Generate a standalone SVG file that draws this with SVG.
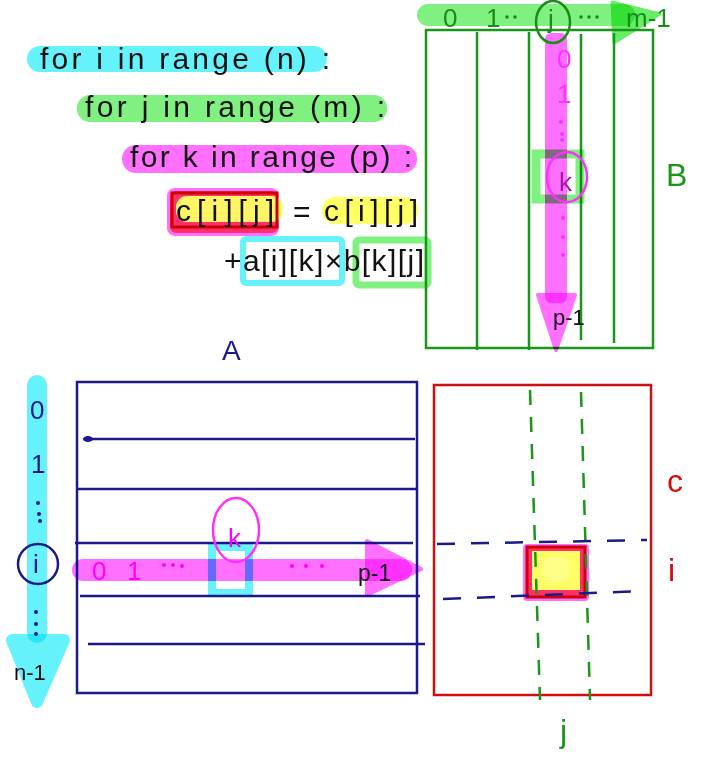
<svg xmlns="http://www.w3.org/2000/svg" width="709" height="761" viewBox="0 0 709 761">
<style>
.hl{mix-blend-mode:multiply}
.code{font-family:"Liberation Sans",Arial,sans-serif;font-size:30px;fill:#111}
.lbl{font-family:"Liberation Sans",Arial,sans-serif}
.cy{fill:#66f2fa}
.gr{fill:#80f080}
.mg{fill:#ff70ff}
.yl{fill:#ffff66}
</style>
<rect width="709" height="761" fill="#fff"/>
<g id="code">
  <rect class="cy hl" x="27" y="46" width="300" height="26" rx="13"/>
  <rect class="gr hl" x="77" y="95" width="310" height="27" rx="13"/>
  <rect class="mg hl" x="122" y="145" width="295" height="28" rx="14"/>
  <rect class="mg hl" x="167" y="188" width="112" height="48" rx="8"/>
  <rect class="hl" x="170" y="191" width="108" height="42" rx="6" fill="#ff6a6a"/>
  <rect class="yl" x="176" y="196" width="107" height="26" rx="11" opacity="0.95"/>
  <rect x="172" y="193" width="105" height="34" fill="none" stroke="#cc0000" stroke-width="3"/>
  <rect class="yl hl" x="322" y="197" width="96" height="27" rx="13"/>
  <rect x="243" y="239" width="99" height="44" rx="3" fill="none" stroke="#66f2fa" stroke-width="6"/>
  <rect x="356" y="240" width="72" height="45" rx="3" fill="none" stroke="#80f080" stroke-width="7"/>
  <text class="code" x="40" y="69" textLength="290" lengthAdjust="spacing">for i in range (n) :</text>
  <text class="code" x="85" y="117" textLength="300" lengthAdjust="spacing">for j in range (m) :</text>
  <text class="code" x="130" y="167" textLength="282" lengthAdjust="spacing">for k in range (p) :</text>
  <text class="code" x="176" y="221" textLength="98" lengthAdjust="spacing">c[i][j]</text>
  <text class="code" x="293" y="222">=</text>
  <text class="code" x="324" y="221" textLength="94" lengthAdjust="spacing">c[i][j]</text>
  <text class="code" x="224" y="271" textLength="200" lengthAdjust="spacing">+a[i][k]×b[k][j]</text>
</g>
<g id="matrixB">
  <rect class="gr hl" x="417" y="4" width="218" height="22" rx="11"/>
  <polygon class="hl" points="612,2 660,14 614,43" fill="#66ee66" stroke="#66ee66" stroke-width="3" stroke-linejoin="round"/>
  <rect x="426" y="30" width="227" height="318" fill="none" stroke="#1a961a" stroke-width="2.5"/>
  <g stroke="#1a961a" stroke-width="2.5">
    <line x1="477" y1="32" x2="477" y2="350"/>
    <line x1="529" y1="32" x2="529" y2="350"/>
    <line x1="581" y1="34" x2="581" y2="340"/>
    <line x1="614" y1="33" x2="614" y2="343"/>
  </g>
  <rect class="mg hl" x="545" y="33" width="22" height="270" rx="6"/>
  <polygon class="mg hl" points="538,295 575,295 556,350" stroke="#ff70ff" stroke-width="4" stroke-linejoin="round"/>
  <rect class="hl" x="536" y="154" width="44" height="45" fill="none" stroke="#80f080" stroke-width="9"/>
  <g class="lbl" fill="#1a8c1a" font-size="26">
    <text x="443" y="27">0</text>
    <text x="486" y="27">1</text>
    <text x="548" y="28">j</text>
    <text x="626" y="27">m-1</text>
  </g>
  <g fill="#1a8c1a">
    <circle cx="507" cy="17" r="1.8"/><circle cx="515" cy="17" r="1.8"/>
    <circle cx="581" cy="17" r="1.8"/><circle cx="589" cy="17" r="1.8"/><circle cx="597" cy="17" r="1.8"/>
  </g>
  <ellipse cx="553" cy="22" rx="17" ry="21" fill="none" stroke="#1a8c1a" stroke-width="2.5"/>
  <g class="lbl" fill="#ff30ff" font-size="26">
    <text x="557" y="68">0</text>
    <text x="557" y="103">1</text>
    <text x="559" y="191" fill="#b010b0">k</text>
  </g>
  <ellipse cx="567" cy="177" rx="20" ry="25" fill="none" stroke="#ff30ff" stroke-width="2.5"/>
  <g fill="#ff30ff">
    <circle cx="561" cy="122" r="2"/><circle cx="562" cy="134" r="2"/><circle cx="562" cy="140" r="2"/>
    <circle cx="563" cy="218" r="2"/><circle cx="563" cy="237" r="2"/><circle cx="563" cy="255" r="2"/>
  </g>
  <text class="lbl" x="553" y="325" font-size="22" fill="#111">p-1</text>
  <text class="lbl" x="666" y="186" font-size="32" fill="#1a961a">B</text>
</g>
<g id="matrixA">
  <text class="lbl" x="222" y="360" font-size="28" fill="#1a1a8c">A</text>
  <rect x="77" y="382" width="340" height="311" fill="none" stroke="#1a1a8c" stroke-width="2.5"/>
  <g stroke="#1a1a8c" stroke-width="2.5">
    <line x1="86" y1="439" x2="415" y2="439"/>
    <line x1="77" y1="489" x2="417" y2="489"/>
    <line x1="75" y1="543" x2="413" y2="543"/>
    <line x1="80" y1="596" x2="420" y2="596"/>
    <line x1="88" y1="644" x2="425" y2="644"/>
  </g>
  <ellipse cx="88" cy="439" rx="5" ry="3" fill="#1a1a8c"/>
  <rect class="cy hl" x="27" y="375" width="20" height="268" rx="10"/>
  <polygon class="cy hl" points="12,640 64,640 37,702" stroke="#66f2fa" stroke-width="12" stroke-linejoin="round"/>
  <g class="lbl" fill="#1a1a8c" font-size="26">
    <text x="30" y="419">0</text>
    <text x="31" y="473">1</text>
    <text x="33" y="573">i</text>
  </g>
  <circle cx="38" cy="564" r="20" fill="none" stroke="#1a1a8c" stroke-width="2.5"/>
  <g fill="#1a1a8c">
    <circle cx="38" cy="503" r="2"/><circle cx="39" cy="514" r="2"/><circle cx="40" cy="521" r="2"/>
    <circle cx="36" cy="612" r="2"/><circle cx="36" cy="624" r="2"/><circle cx="36" cy="634" r="2"/>
  </g>
  <text class="lbl" x="14" y="680" font-size="22" fill="#111">n-1</text>
  <rect class="mg hl" x="72" y="559" width="340" height="22" rx="11"/>
  <polygon class="mg hl" points="367,541 421,569 367,595" stroke="#ff70ff" stroke-width="4" stroke-linejoin="round"/>
  <rect class="hl" x="212" y="547" width="37" height="46" fill="none" stroke="#66f2fa" stroke-width="8"/>
  <g class="lbl" fill="#ff00ff" font-size="26">
    <text x="92" y="580">0</text>
    <text x="127" y="580">1</text>
    <text x="228" y="547">k</text>
  </g>
  <ellipse cx="236" cy="530" rx="23" ry="32" fill="none" stroke="#ff30ff" stroke-width="2.5"/>
  <g fill="#ff00ff">
    <circle cx="164" cy="565" r="2"/><circle cx="173" cy="565" r="2"/><circle cx="182" cy="566" r="2"/>
    <circle cx="292" cy="566" r="2"/><circle cx="306" cy="566" r="2"/><circle cx="322" cy="566" r="2"/>
  </g>
  <text class="lbl" x="358" y="581" font-size="23" fill="#111">p-1</text>
</g>
<g id="matrixC">
  <rect x="434" y="385" width="217" height="310" fill="none" stroke="#d01010" stroke-width="2.5"/>
  <rect class="mg hl" x="523" y="544" width="66" height="57" rx="4"/>
  <rect class="hl" x="526" y="547" width="60" height="51" fill="#ff6a6a"/>
  <rect class="yl" x="532" y="551" width="48" height="39"/>
  <circle cx="556" cy="569" r="14" fill="#ffff88"/>
  <rect x="527" y="547" width="58" height="50" fill="none" stroke="#cc0000" stroke-width="3"/>
  <g stroke="#1a961a" stroke-width="2.5" stroke-dasharray="15,12">
    <line x1="530" y1="390" x2="540" y2="700"/>
    <line x1="581" y1="392" x2="590" y2="700"/>
  </g>
  <g stroke="#1a1a8c" stroke-width="2.5" stroke-dasharray="18,16">
    <line x1="437" y1="544" x2="647" y2="540"/>
    <line x1="443" y1="599" x2="643" y2="591"/>
  </g>
  <text class="lbl" x="667" y="492" font-size="32" fill="#d01010">c</text>
  <text class="lbl" x="668" y="581" font-size="32" fill="#d01010">i</text>
  <text class="lbl" x="560" y="742" font-size="32" fill="#1a961a">j</text>
</g>
</svg>
